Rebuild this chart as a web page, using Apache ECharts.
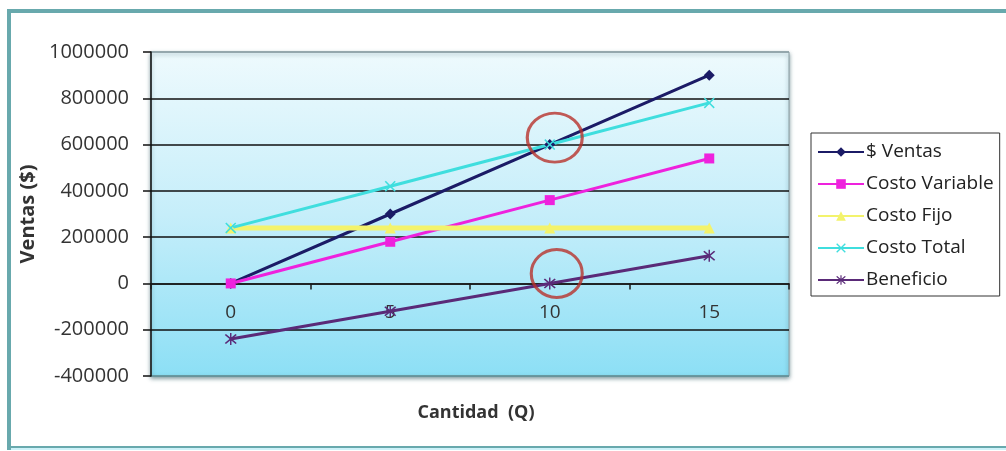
<!DOCTYPE html>
<html>
<head>
<meta charset="utf-8">
<style>
  html, body { margin: 0; padding: 0; background: #ffffff; }
  #chart { width: 1006px; height: 451px; }
</style>
<script src="https://cdn.jsdelivr.net/npm/echarts@6/dist/echarts.min.js"></script>
</head>
<body>
<div id="chart"></div>
<script>
// Break-even chart: sales, variable/fixed/total cost and profit vs quantity
const categories = ['0', '5', '10', '15'];
const ventas = [0, 300000, 600000, 900000];
const costoVariable = [0, 180000, 360000, 540000];
const costoFijo = [240000, 240000, 240000, 240000];
const costoTotal = [240000, 420000, 600000, 780000];
const beneficio = [-240000, -120000, 0, 120000];
const seriesNames = ['$ Ventas', 'Costo Variable', 'Costo Fijo', 'Costo Total', 'Beneficio'];
const yMin = -400000, yMax = 1000000, yStep = 200000;

const FONT = '"Open Sans", "DejaVu Sans", sans-serif';

// filled outlines for the "x" and asterisk markers
const xMark = 'path://M0,1 L1,0 L5,4 L9,0 L10,1 L6,5 L10,9 L9,10 L5,6 L1,10 L0,9 L4,5 Z';
const starMark = 'path://M0,1 L1,0 L5,4 L9,0 L10,1 L6,5 L10,9 L9,10 L5,6 L1,10 L0,9 L4,5 Z M4.4,-1 L5.6,-1 L5.6,11 L4.4,11 Z';

function lineSeries(name, data, color, width, symbol, size) {
  return {
    name: name, type: 'line', data: data,
    symbol: symbol, symbolSize: size,
    lineStyle: { color: color, width: width },
    itemStyle: { color: color },
    emphasis: { disabled: true },
    z: 3
  };
}

const chart = echarts.init(document.getElementById('chart'), null, { renderer: 'canvas' });
chart.setOption({
  animation: false,
  backgroundColor: '#ffffff',
  textStyle: { fontFamily: FONT },
  graphic: [
    { type: 'rect', z: 100, silent: true,
      shape: { x: 9, y: 11, width: 1100, height: 437 },
      style: { fill: 'none', stroke: '#68a9ad', lineWidth: 4 } },
    { type: 'line', z: 100, silent: true,
      shape: { x1: 11, y1: 449, x2: 1006, y2: 449 },
      style: { stroke: '#cdf2f9', lineWidth: 2 } }
  ],
  grid: {
    left: 151, top: 52, right: 217, bottom: 75,
    outerBoundsMode: 'none',
    containLabel: false,
    show: true,
    borderColor: '#8a9ea3', borderWidth: 1,
    shadowColor: 'rgba(20,70,80,0.55)', shadowBlur: 4, shadowOffsetY: 2,
    backgroundColor: {
      type: 'linear', x: 0, y: 0, x2: 0, y2: 1,
      colorStops: [
        { offset: 0, color: '#eefafd' },
        { offset: 0.5, color: '#c6eefa' },
        { offset: 1, color: '#8cdff5' }
      ]
    }
  },
  legend: {
    orient: 'vertical',
    left: 811, top: 133,
    data: seriesNames,
    backgroundColor: '#ffffff',
    borderColor: '#333333', borderWidth: 1,
    padding: [9, 6, 6, 6],
    itemWidth: 46, itemHeight: 12, itemGap: 12,
    selectedMode: false,
    textStyle: { fontFamily: FONT, fontSize: 19, color: '#222', lineHeight: 20, padding: [0, 0, 0, -3] }
  },
  xAxis: {
    type: 'category',
    data: categories,
    boundaryGap: true,
    name: 'Cantidad  (Q)',
    nameLocation: 'middle',
    nameGap: 28,
    nameTextStyle: { fontFamily: FONT, fontSize: 18, fontWeight: 'bold', color: '#333', padding: [0, 0, 0, 12] },
    axisLine: { onZero: true, lineStyle: { color: '#1a1a1a', width: 1.5 } },
    axisTick: { show: true, length: 6, lineStyle: { color: '#1a1a1a', width: 1.5 } },
    // labels sit just under the zero line, which is 92px above the plot's lower edge
    axisLabel: { fontFamily: FONT, fontSize: 19, color: '#333', margin: -73 },
    splitLine: { show: false }
  },
  yAxis: {
    type: 'value',
    min: yMin, max: yMax, interval: yStep,
    name: 'Ventas ($)',
    nameLocation: 'middle',
    nameGap: 106,
    nameRotate: 90,
    nameTextStyle: { fontFamily: FONT, fontSize: 20, fontWeight: 'bold', color: '#333' },
    axisLine: { show: true, lineStyle: { color: '#111', width: 1.5 } },
    axisTick: { show: true, length: 8, lineStyle: { color: '#111', width: 1.5 } },
    axisLabel: { fontFamily: FONT, fontSize: 20, color: '#333', margin: 22,
                 formatter: function (v) { return String(v); } },
    splitLine: { show: true, lineStyle: {
      color: ['#5d8e96', '#111', '#111', '#111', '#111', '#111', '#111', '#8a9ea3'],
      width: 1.5 } }
  },
  series: [
    lineSeries(seriesNames[0], ventas, '#1b1b66', 3, 'diamond', 11),
    lineSeries(seriesNames[1], costoVariable, '#ee22dd', 3, 'rect', 10),
    lineSeries(seriesNames[2], costoFijo, '#f3f36c', 5, 'triangle', 11),
    lineSeries(seriesNames[3], costoTotal, '#3fdede', 3, xMark, 11),
    lineSeries(seriesNames[4], beneficio, '#5a2a78', 3, starMark, 12),
    {
      name: 'puntos',
      type: 'scatter',
      silent: true,
      z: 5,
      data: [
        { value: [categories[2], ventas[2]], symbolSize: [55, 49], symbolOffset: [5, -7] },
        { value: [categories[2], beneficio[2]], symbolSize: [51, 48], symbolOffset: [7, -10] }
      ],
      symbol: 'circle',
      itemStyle: { color: 'rgba(0,0,0,0)', borderColor: '#b8322c', borderWidth: 3 }
    }
  ]
});
</script>
</body>
</html>
